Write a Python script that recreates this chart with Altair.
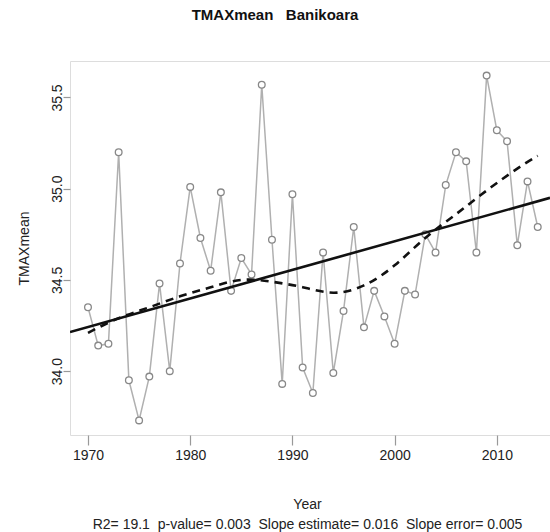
import altair as alt
import pandas as pd

years = list(range(1970, 2015))
tmax = [34.35, 34.14, 34.15, 35.20, 33.95, 33.73, 33.97, 34.48, 34.00, 34.59,
        35.01, 34.73, 34.55, 34.98, 34.44, 34.62, 34.53, 35.57, 34.72, 33.93,
        34.97, 34.02, 33.88, 34.65, 33.99, 34.33, 34.79, 34.24, 34.44, 34.30,
        34.15, 34.44, 34.42, 34.75, 34.65, 35.02, 35.20, 35.15, 34.65, 35.62,
        35.32, 35.26, 34.69, 35.04, 34.79]

trend_years = [1968.24, 2015.2]
trend_vals = [34.214, 34.95]

loess_years = [1970, 1973, 1976, 1979, 1982, 1985, 1988, 1991, 1994, 1997,
               2000, 2003, 2006, 2009, 2012, 2014]
loess_vals = [34.21, 34.29, 34.35, 34.41, 34.46, 34.50, 34.49, 34.46, 34.43, 34.47,
              34.58, 34.73, 34.86, 34.99, 35.11, 35.18]

x_ticks = [1970, 1980, 1990, 2000, 2010]
y_ticks = [34.0, 34.5, 35.0, 35.5]

NB = "\u00a0"
title_text = "TMAXmean" + NB * 3 + "Banikoara"
footer_text = (NB * 2).join(["R2= 19.1", "p-value= 0.003", "Slope estimate= 0.016",
                             "Slope error= 0.005"])

df = pd.DataFrame({"Year": years, "TMAXmean": tmax})
df_trend = pd.DataFrame({"Year": trend_years, "TMAXmean": trend_vals})
df_loess = pd.DataFrame({"Year": loess_years, "TMAXmean": loess_vals})

FONT = "Liberation Sans"

xscale = alt.Scale(domain=[1968.24, 2015.2], nice=False, zero=False)
yscale = alt.Scale(domain=[33.65, 35.70], nice=False, zero=False)

xenc = alt.X("Year:Q", scale=xscale, axis=alt.Axis(
    values=x_ticks, format="d", domain=False, grid=False,
    tickSize=10, tickColor="#999", tickWidth=1.2,
    labelFont=FONT, labelFontSize=14, labelColor="#222", labelPadding=3,
    labelFlush=False,
    title=["Year", footer_text],
    titleFont=FONT, titleFontSize=14, titleFontWeight="normal", titleColor="#222",
    titleLineHeight=20, titlePadding=35, titleX=237))
yenc = alt.Y("TMAXmean:Q", scale=yscale, axis=alt.Axis(
    values=y_ticks, format=".1f", domain=False, grid=False,
    tickSize=7, tickColor="#999", tickWidth=1.2,
    labelFont=FONT, labelFontSize=14, labelColor="#222", labelAngle=270,
    labelAlign="center", labelBaseline="bottom", labelPadding=-1,
    title="TMAXmean", titleFont=FONT, titleFontSize=14, titleFontWeight="normal",
    titleColor="#222", titlePadding=19))

line = alt.Chart(df).mark_line(color="#b0b0b0", strokeWidth=1.5, clip=True).encode(x=xenc, y=yenc)
pts = alt.Chart(df).mark_point(shape="circle", filled=True, fill="white", stroke="#888",
                               strokeWidth=1.3, size=45, opacity=1, clip=True).encode(x=xenc, y=yenc)
trend = alt.Chart(df_trend).mark_line(color="#111", strokeWidth=2.6, clip=True).encode(x=xenc, y=yenc)
loess = alt.Chart(df_loess).mark_line(color="#111", strokeWidth=2.6, strokeDash=[8, 6],
                                      interpolate="natural", clip=True).encode(x=xenc, y=yenc)

chart = alt.layer(line, pts, trend, loess).properties(
    width=480, height=374,
    title=alt.TitleParams(title_text, font=FONT, fontSize=15, fontWeight="bold",
                          color="#111", anchor="middle", dx=-35, offset=38),
    autosize=alt.AutoSizeParams(type="none"),
    padding={"left": 70, "top": 61, "right": 0, "bottom": 97},
).configure_view(stroke="#999", strokeWidth=1.5).configure(background="white")

chart.save("out.html", embed_options={"renderer": "svg", "actions": False})
